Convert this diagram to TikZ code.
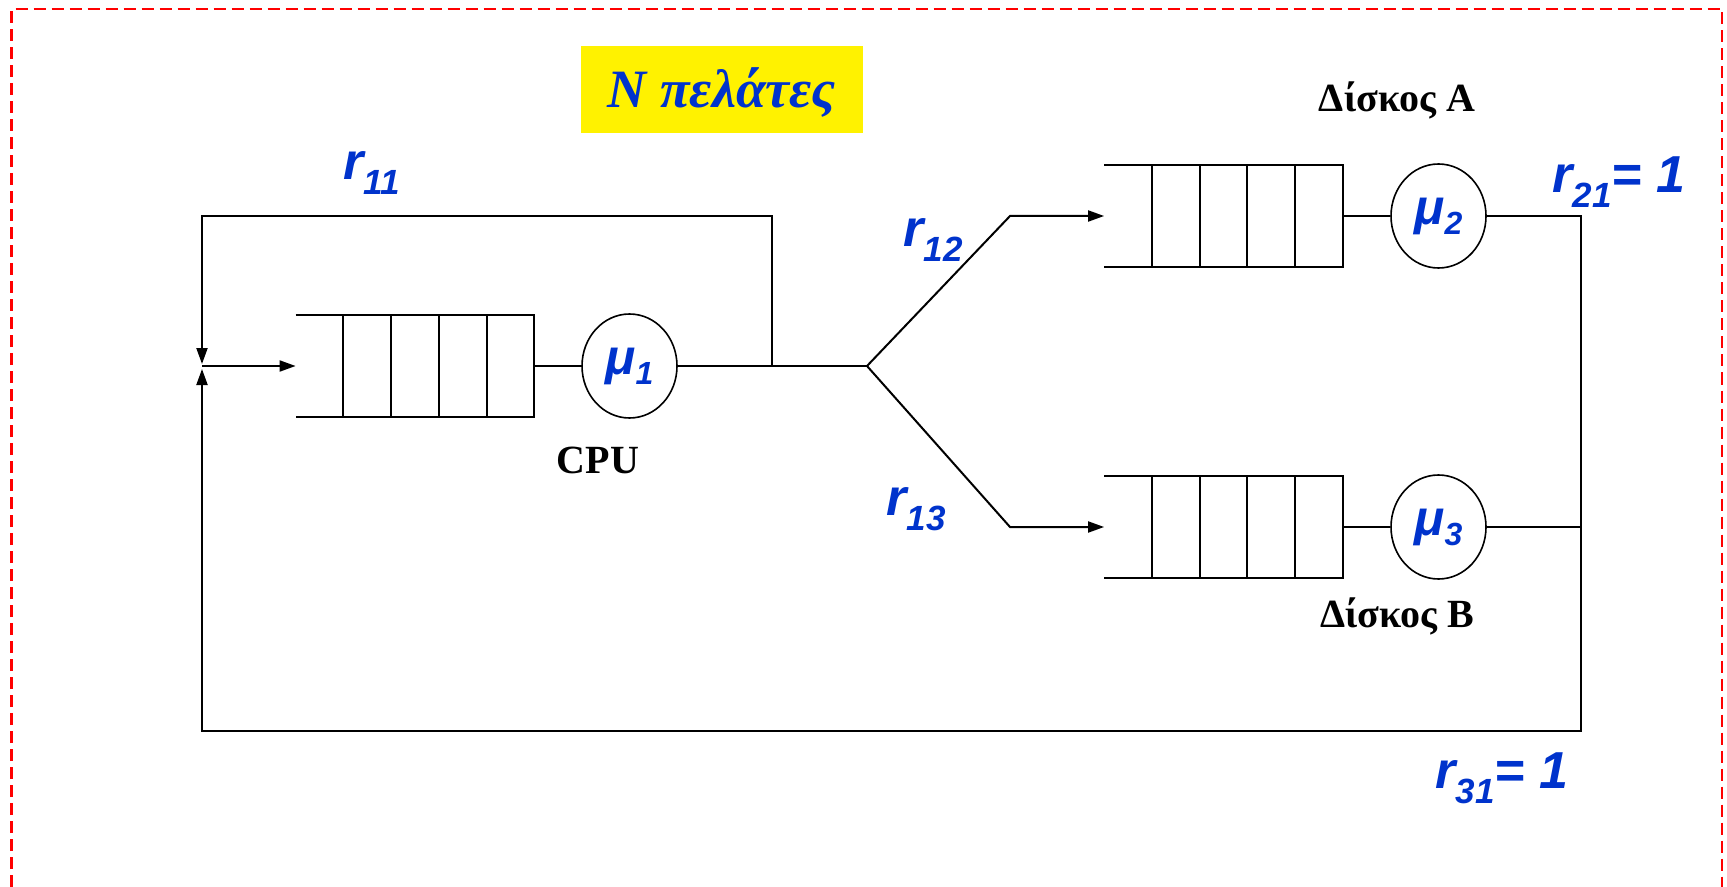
\documentclass[tikz,border=0pt]{standalone}
\usepackage{fontspec}
\setmainfont{Liberation Serif}
\newfontfamily\labelsans{Liberation Sans}
\usetikzlibrary{arrows.meta,calc,shapes.geometric}
\definecolor{rateblue}{RGB}{0,51,204}

% routing probability r_ij (and optional tail such as "= 1")
\newcommand\rlab[2]{{\labelsans\bfseries\itshape\fontsize{26}{26}\selectfont
  r\raisebox{-7.5pt}{\fontsize{17.5}{17.5}\selectfont #1}#2}}
% service rate mu_i
\newcommand\mulab[1]{{\color{rateblue}\labelsans\bfseries\itshape\fontsize{25}{25}\selectfont
  μ\raisebox{-5pt}{\fontsize{16}{16}\selectfont #1}}}
% open-ended queue with four inner cells
\newcommand\queuecells[1]{%
  \draw[wire] (#1.north west) -- (#1.north east) -- (#1.south east) -- (#1.south west);
  \foreach \k in {1,...,4}
    \draw[cell] ($(#1.south west)!\k/5!(#1.south east)$) -- ($(#1.north west)!\k/5!(#1.north east)$);}

\begin{document}
\begin{tikzpicture}[
  x=0.5pt, y=-0.5pt,
  wire/.style={line width=1pt},
  cell/.style={line width=0.9pt},
  flow/.style={wire, -{Triangle[length=8pt,width=5.5pt]}},
  queue/.style={minimum width=119pt, minimum height=51pt, inner sep=0pt},
  server/.style={ellipse, draw, line width=0.8pt, minimum width=47.5pt,
                 minimum height=52pt, inner sep=0pt},
  rate/.style={anchor=base west, inner sep=0pt, text=rateblue},
  caption/.style={anchor=base, inner sep=0pt, font=\bfseries\fontsize{20}{20}\selectfont}
]
\useasboundingbox (0,0) rectangle (1727,887);
\draw[red, line width=1.3pt, dash pattern=on 6pt off 3pt]
  (11.5,887) -- (11.5,9) -- (1722,9) -- (1722,887);

\node[fill=yellow, minimum width=141pt, minimum height=43.5pt, text height=18pt,
      text depth=0pt, text=rateblue, font=\bfseries\itshape\fontsize{27}{27}\selectfont]
  (clients) at (722,89.5) {N πελάτες};

% CPU stage
\node[queue] (cpuq) at (415,366) {};
\queuecells{cpuq}
\node[server] (mu1) at (629.5,366) {\mulab{1}};
\node[caption] (cpu) at (598,473) {CPU};

% disk stages
\node[queue] (qA) at (1223.5,216) {};
\queuecells{qA}
\node[server] (mu2) at (1438.5,216) {\mulab{2}};
\node[caption] (diskA) at (1397,112) {Δίσκος A};

\node[queue] (qB) at (1223.5,527) {};
\queuecells{qB}
\node[server] (mu3) at (1438.5,527) {\mulab{3}};
\node[caption] (diskB) at (1397,627) {Δίσκος B};

\coordinate (join) at (202,366);
\coordinate (tap) at (772,366);
\coordinate (topL) at (202,216);
\coordinate (fork) at (867,366);
\coordinate (elbowA) at (1010,216);
\coordinate (elbowB) at (1010,527);
\coordinate (botR) at (1581,731);
\coordinate (botL) at (202,731);

\draw[wire] (cpuq.east) -- (mu1.west);
\draw[wire] (mu1.east) -- (fork);
\draw[flow] (tap) |- (topL) -- ([yshift=1pt]join);
\draw[flow] (join) -- (cpuq.west);
\draw[flow] (fork) -- (elbowA) -- (qA.west);
\draw[flow] (fork) -- (elbowB) -- (qB.west);
\draw[wire] (qA.east) -- (mu2.west);
\draw[wire] (qB.east) -- (mu3.west);
\draw[wire] (mu3.east) -- (mu3.east -| botR);
\draw[flow] (mu2.east) -| (botR) -- (botL) -- ([yshift=-1.5pt]join);

\node[rate] (r11) at (343,180) {\rlab{11}{}};
\node[rate] (r12) at (903,247) {\rlab{12}{}};
\node[rate] (r13) at (886,515) {\rlab{13}{}};
\node[rate] (r21) at (1552,193) {\rlab{21}{= 1}};
\node[rate] (r31) at (1435,788) {\rlab{31}{= 1}};
\end{tikzpicture}
\end{document}
